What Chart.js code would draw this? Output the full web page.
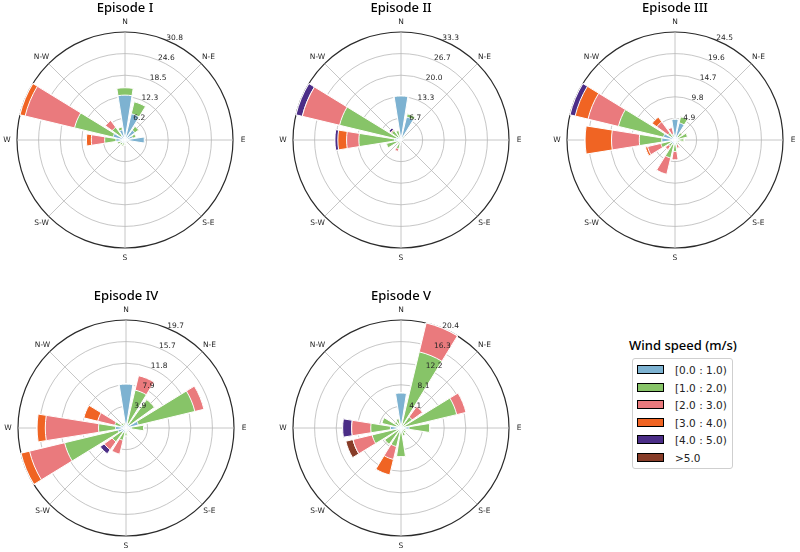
<!DOCTYPE html>
<html>
<head>
<meta charset="utf-8">
<script src="https://cdn.jsdelivr.net/npm/chart.js@4.4.0/dist/chart.umd.min.js"></script>
<style>
html,body{margin:0;padding:0;background:#fff;}
#wrap{position:relative;width:800px;height:552px;overflow:hidden;background:#fff;}
#wrap canvas{position:absolute;}
#legTitle{position:absolute;left:600px;width:166px;top:336px;text-align:center;font:500 13px "Noto Sans",sans-serif;color:#000;line-height:18px;}
#legend{position:absolute;left:632px;top:358px;width:101px;height:111px;border:1px solid #cfcfcf;border-radius:3px;box-sizing:border-box;}
.li{position:absolute;left:0;height:14px;width:100px;}
.sw{position:absolute;left:4px;top:2px;width:27px;height:9px;border:1px solid #000;box-sizing:border-box;}
.lt{position:absolute;left:42px;top:0;font:10.5px "DejaVu Sans",sans-serif;color:#222;line-height:14px;white-space:nowrap;}
</style>
</head>
<body>
<div id="wrap">
  <canvas id="c1" width="250" height="270" style="left:0px;top:0px"></canvas>
  <canvas id="c2" width="250" height="270" style="left:276px;top:0px"></canvas>
  <canvas id="c3" width="250" height="270" style="left:550px;top:0px"></canvas>
  <canvas id="c4" width="250" height="270" style="left:1px;top:288px"></canvas>
  <canvas id="c5" width="250" height="270" style="left:276px;top:288px"></canvas>
  <div id="legTitle">Wind speed (m/s)</div>
  <div id="legend"></div>
</div>
<script>
// ---- categories ----
const directions = ['N','NNE','NE','ENE','E','ESE','SE','SSE','S','SSW','SW','WSW','W','WNW','NW','NNW'];
const compassLabels = ['N','N-E','E','S-E','S','S-W','W','N-W'];
const speedBins = ['[0.0 : 1.0)','[1.0 : 2.0)','[2.0 : 3.0)','[3.0 : 4.0)','[4.0 : 5.0)','>5.0'];
const binColors = ['#7db2d1','#87c468','#ea7a7d','#f06423','#4b2d87','#873c28'];

// ---- Episode I (frequency %, per direction N..NNW) ----
const epI_0to1 = [12.8,7.7,3.5,2.2,5.5,0.8,0.5,0.4,0.6,0.8,1.0,1.2,2.6,3.5,1.5,3.0];
const epI_1to2 = [2.1,3.5,1.3,1.0,0,0.3,0.2,0.3,0.8,1.0,0.8,1.0,3.2,11.3,3.0,0.8];
const epI_2to3 = [0,0,0,0,0,0,0,0,0,0,0,0,3.8,14.5,2.4,0];
const epI_3to4 = [0,0,0,0,0,0,0,0,0,0,0,0,1.4,1.5,0,0];
const epI_4to5 = [0,0,0,0,0,0,0,0,0,0,0,0,0,0,0,0];
const epI_gt5  = [0,0,0,0,0,0,0,0,0,0,0,0,0,0,0,0];
const epI_rmax = 30.8;
const epI_ticks = ['6.2','12.3','18.5','24.6','30.8'];

// ---- Episode II ----
const epII_0to1 = [13.6,7.3,1.0,0.6,0.4,0.3,0.3,0.3,0.4,1.0,0.6,1.0,2.0,1.5,1.0,0.8];
const epII_1to2 = [0,1.0,0.5,0,0,0,0,0,0.3,1.8,0.8,3.6,11.0,18.0,2.6,2.2];
const epII_2to3 = [0,0,0,0,0,0,0,0,0,0.8,0,0,3.8,11.84,0.3,0];
const epII_3to4 = [0,0,0,0,0,0,0,0,0,0,0,0,2.7,0,0,0];
const epII_4to5 = [0,0,0,0,0,0,0,0,0,0,0,0,0.9,2.0,0.7,0];
const epII_gt5  = [0,0,0,0,0,0,0,0,0,0,0,0,0,0,0,0];
const epII_rmax = 33.34;
const epII_ticks = ['6.7','13.3','20.0','26.7','33.3'];

// ---- Episode III ----
const epIII_0to1 = [4.7,4.0,0.8,0.8,0.5,0.5,0.5,0.6,1.0,1.0,1.0,1.0,3.0,2.7,1.0,0.8];
const epIII_1to2 = [0,1.4,1.2,2.1,1.5,0.5,0.3,0.5,1.6,3.2,0.8,2.3,5.1,10.5,1.0,0.6];
const epIII_2to3 = [0,0,0,0,0,0,0,0.8,1.9,3.8,0.9,3.1,6.3,7.1,3.1,1.5];
const epIII_3to4 = [0,0,0,0,0,0,0,0,0,0,0,0.5,6.0,3.0,1.3,0];
const epIII_4to5 = [0,0,0,0,0,0,0,0,0,0,0,0,0,1.2,0,0];
const epIII_gt5  = [0,0,0,0,0,0,0,0,0,0,0,0,0,0,0,0];
const epIII_rmax = 24.5;
const epIII_ticks = ['4.9','9.8','14.7','19.6','24.5'];

// ---- Episode IV ----
const epIV_0to1 = [8.0,0.8,0.8,2.3,1.0,0.4,0.3,0.4,0.6,0.8,1.0,1.5,1.9,1.0,0.5,0.6];
const epIV_1to2 = [0,6.3,5.6,10.6,2.2,0.3,0.2,0.3,0.8,1.5,2.1,10.0,3.1,1.1,0.6,0.4];
const epIV_2to3 = [0,2.7,0,1.7,0,0,0,0,0,2.6,1.8,6.57,9.7,3.2,0,0];
const epIV_3to4 = [0,0,0,0,0,0,0,0,0,0,0,1.6,1.5,2.6,0,0];
const epIV_4to5 = [0,0,0,0,0,0,0,0,0,0,0.9,0,0,0,0,0];
const epIV_gt5  = [0,0,0,0,0,0,0,0,0,0,0,0,0,0,0,0];
const epIV_rmax = 19.67;
const epIV_ticks = ['3.9','7.9','11.8','15.7','19.7'];

// ---- Episode V ----
const epV_0to1 = [6.6,0.5,0.5,0.3,1.5,0.4,0.4,0.5,0.8,0.8,0.5,0.8,2.0,0.8,0.5,0.5];
const epV_1to2 = [0,14.26,2.1,10.5,3.9,0.5,0.8,1.0,4.6,2.8,3.3,4.8,3.7,2.9,1.0,1.3];
const epV_2to3 = [0,5.6,2.4,1.8,0,0,0,0,0,2.5,0,3.7,3.6,0,0,0];
const epV_3to4 = [0,0,0,0,0,0,0,0,0,3.0,0,0,0,0,0,0];
const epV_4to5 = [0,0,0,0,0,0,0,0,0,0,0,0,1.7,0,0,0];
const epV_gt5  = [0,0,0,0,0,0,0,0,0,0,0,1.4,0,0,0,0];
const epV_rmax = 20.36;
const epV_ticks = ['4.1','8.1','12.2','16.3','20.4'];

const BAR_DEG = 18, GAP_DEG = 4.5; // windrose opening 0.8 of 22.5 deg

const roseDecor = {
  id: 'roseDecor',
  beforeDatasetsDraw(chart) {
    const s = chart.scales.r, ctx = chart.ctx, R = s.drawingArea;
    ctx.save();
    ctx.strokeStyle = '#b8b8b8';
    ctx.lineWidth = 0.8;
    for (let k = 0; k < 8; k++) {
      const a = k * Math.PI / 4 - Math.PI / 2;
      ctx.beginPath();
      ctx.moveTo(s.xCenter, s.yCenter);
      ctx.lineTo(s.xCenter + R * Math.cos(a), s.yCenter + R * Math.sin(a));
      ctx.stroke();
    }
    ctx.restore();
  },
  afterDatasetsDraw(chart, args, opts) {
    const s = chart.scales.r, ctx = chart.ctx, R = s.drawingArea;
    ctx.save();
    ctx.fillStyle = '#262626';
    ctx.font = '7.5px "DejaVu Sans"';
    ctx.textAlign = 'center';
    ctx.textBaseline = 'middle';
    compassLabels.forEach((lab, k) => {
      const a = k * Math.PI / 4 - Math.PI / 2;
      ctx.fillText(lab, s.xCenter + (R + 10) * Math.cos(a), s.yCenter + (R + 10) * Math.sin(a));
    });
    ctx.textAlign = 'left';
    ctx.textBaseline = 'alphabetic';
    const a = (-90 + 22.5) * Math.PI / 180;
    opts.ticks.forEach((t, i) => {
      const r = s.getDistanceFromCenterForValue(opts.rmax * (i + 1) / 5);
      ctx.fillText(t, s.xCenter + r * Math.cos(a), s.yCenter + r * Math.sin(a));
    });
    ctx.restore();
  }
};

function buildRose(id, title, bins, rmax, tickLabels) {
  const labels = [];
  directions.forEach(d => { labels.push(d); labels.push(''); });
  let cum = new Array(directions.length).fill(0);
  const datasets = bins.map((vals, b) => {
    cum = cum.map((c, i) => c + vals[i]);
    const data = [];
    cum.forEach(v => { data.push(v); data.push(0); });
    return {
      label: speedBins[b],
      data: data,
      backgroundColor: binColors[b],
      borderColor: '#ffffff',
      borderWidth: c => (c.dataIndex % 2 ? 0 : 1),
      angle: c => (c.dataIndex % 2 ? GAP_DEG : BAR_DEG)
    };
  });
  return new Chart(document.getElementById(id), {
    type: 'polarArea',
    data: { labels: labels, datasets: datasets },
    options: {
      responsive: false,
      animation: false,
      devicePixelRatio: 1,
      layout: { padding: { left: 17, right: 17, top: 0, bottom: 21 } },
      plugins: {
        legend: { display: false },
        tooltip: { enabled: false },
        title: { display: true, text: title, color: '#000',
                 font: { family: '"Noto Sans"', size: 13, weight: 500 },
                 padding: { top: 0, bottom: 16 } },
        roseDecor: { ticks: tickLabels, rmax: rmax }
      },
      scales: {
        r: {
          type: 'radialLinear',
          min: 0, max: rmax,
          startAngle: -BAR_DEG / 2,
          afterBuildTicks: sc => { sc.ticks = [0,1,2,3,4,5].map(i => ({ value: rmax * i / 5 })); },
          ticks: { display: false },
          grid: { circular: true,
                  color: c => (c.index === 5 ? '#2a2a2a' : '#b8b8b8'),
                  lineWidth: c => (c.index === 5 ? 1.2 : 0.8) },
          angleLines: { display: false },
          pointLabels: { display: false }
        }
      }
    },
    plugins: [roseDecor]
  });
}

buildRose('c1', 'Episode I',   [epI_0to1, epI_1to2, epI_2to3, epI_3to4, epI_4to5, epI_gt5], epI_rmax, epI_ticks);
buildRose('c2', 'Episode II',  [epII_0to1, epII_1to2, epII_2to3, epII_3to4, epII_4to5, epII_gt5], epII_rmax, epII_ticks);
buildRose('c3', 'Episode III', [epIII_0to1, epIII_1to2, epIII_2to3, epIII_3to4, epIII_4to5, epIII_gt5], epIII_rmax, epIII_ticks);
buildRose('c4', 'Episode IV',  [epIV_0to1, epIV_1to2, epIV_2to3, epIV_3to4, epIV_4to5, epIV_gt5], epIV_rmax, epIV_ticks);
buildRose('c5', 'Episode V',   [epV_0to1, epV_1to2, epV_2to3, epV_3to4, epV_4to5, epV_gt5], epV_rmax, epV_ticks);

// legend
const leg = document.getElementById('legend');
speedBins.forEach((lab, i) => {
  const row = document.createElement('div');
  row.className = 'li';
  row.style.top = (4 + i * 17.5) + 'px';
  const sw = document.createElement('div');
  sw.className = 'sw';
  sw.style.background = binColors[i];
  const t = document.createElement('div');
  t.className = 'lt';
  t.textContent = lab;
  row.appendChild(sw); row.appendChild(t);
  leg.appendChild(row);
});
</script>
</body>
</html>
